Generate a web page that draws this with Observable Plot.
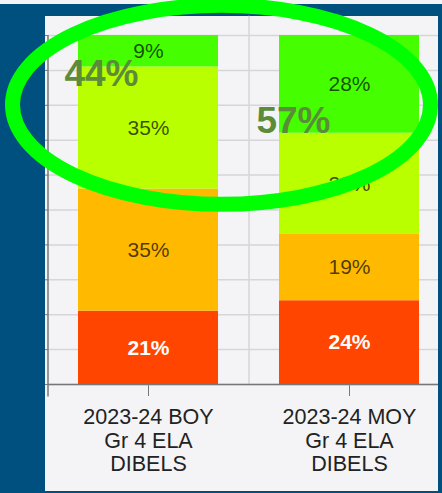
<!DOCTYPE html>
<html>
<head>
<meta charset="utf-8">
<script src="https://cdn.jsdelivr.net/npm/d3@7"></script>
<script src="https://cdn.jsdelivr.net/npm/@observablehq/plot@0.6"></script>
<style>
  html, body { margin: 0; padding: 0; }
  body { background: #00507f; width: 442px; height: 493px; overflow: hidden; position: relative; font-family: "Liberation Sans", Arial, sans-serif; }
  #strip { position: absolute; left: 0; top: 0; width: 442px; height: 4px; background: #f4f4f6; }
  #panel { position: absolute; left: 45px; top: 16px; width: 393px; height: 475px; background: #f4f4f6; }
  #chart { position: absolute; left: 0; top: 0; }
</style>
</head>
<body>
<div id="strip"></div>
<div id="panel"></div>
<div id="chart"></div>
<script>
// ---- data ----
const categories = ["BOY", "MOY"];
const tickLabels = ["2023-24 BOY\nGr 4 ELA\nDIBELS", "2023-24 MOY\nGr 4 ELA\nDIBELS"];
const levels = ["Well Below Benchmark", "Below Benchmark", "At Benchmark", "Above Benchmark"];
const boyValues = [21, 35, 35, 9];
const moyValues = [24, 19, 29, 28];
const levelColors = ["#ff4500", "#ffba00", "#b9ff00", "#45ff00"];
const highlightLabels = ["44%", "57%"];
const yTicks = [0, 10, 20, 30, 40, 50, 60, 70, 80, 90, 100];

const seriesByCategory = [boyValues, moyValues];
const rows = [];
categories.forEach((c, i) => {
  levels.forEach((l, j) => rows.push({cat: c, level: l, value: seriesByCategory[i][j]}));
});
const labelOf = new Map(categories.map((c, i) => [c, tickLabels[i]]));

const font = '"Liberation Sans", Arial, sans-serif';

function ellipseMark(index, scales) {
  const y = scales.y, x = scales.x;
  const bw = x.bandwidth ? x.bandwidth() : 140;
  const left = x(categories[0]) - 65.5;
  const right = x(categories[1]) + bw + 11.5;
  const cy = y(80);
  const ry = y(0) - y(28.5);
  return d3.create("svg:ellipse")
    .attr("cx", (left + right) / 2)
    .attr("cy", cy)
    .attr("rx", (right - left) / 2)
    .attr("ry", ry)
    .attr("fill", "none")
    .attr("stroke", "#00ff00")
    .attr("stroke-width", 15)
    .node();
}

const plot = Plot.plot({
  width: 442,
  height: 493,
  marginLeft: 48,
  marginRight: 4,
  marginTop: 35,
  marginBottom: 109,
  style: {background: "transparent", color: "#777", fontFamily: font, overflow: "visible"},
  x: {domain: categories, range: [47.5, 449.5], paddingInner: 0.3035, paddingOuter: 0.15,
      axis: "bottom", tickSize: 12, tickFormat: () => "", label: null},
  y: {domain: [0, 100], axis: "left", ticks: yTicks, tickSize: 3, tickFormat: () => "", label: null},
  color: {domain: levels, range: levelColors},
  marks: [
    Plot.ruleY(yTicks, {y: d => d, stroke: "#d6d6da", strokeWidth: 1.5}),
    Plot.ruleX([categories[1]], {x: d => d, dx: -100.5, y1: 0, y2: 105.5, stroke: "#d6d6da", strokeWidth: 1.5}),
    Plot.barY(rows, {x: "cat", y: "value", fill: "level"}),
    Plot.ruleY([0], {stroke: "#777", strokeWidth: 1.5}),
    Plot.ruleX([categories[0]], {x: d => d, dx: -100.5, y1: -3.6, y2: 100, stroke: "#777", strokeWidth: 1.5}),
    Plot.text(rows, Plot.stackY({
      x: "cat", y: "value", z: "level",
      text: d => d.level !== levels[0] ? d.value + "%" : "",
      fill: "#000", fillOpacity: 0.7, fontSize: 21
    })),
    Plot.text(rows, Plot.stackY({
      x: "cat", y: "value", z: "level",
      text: d => d.level === levels[0] ? d.value + "%" : "",
      fill: "#fff", fontWeight: "bold", fontSize: 21
    })),
    Plot.text(categories, {
      x: d => d, y: () => 0, text: d => labelOf.get(d),
      lineAnchor: "top", dy: 23, fontSize: 21.5, lineHeight: 1.093, fill: "#222"
    }),
    Plot.text([highlightLabels[0]], {
      x: () => categories[0], y: () => 88.8, text: d => d, dx: -47,
      fontSize: 37, fontWeight: "bold", fill: "#5b8c3a"
    }),
    Plot.text([highlightLabels[1]], {
      x: () => categories[1], y: () => 75.5, text: d => d, dx: -56,
      fontSize: 37, fontWeight: "bold", fill: "#5b8c3a"
    }),
    ellipseMark
  ]
});
document.getElementById("chart").appendChild(plot);
</script>
</body>
</html>
